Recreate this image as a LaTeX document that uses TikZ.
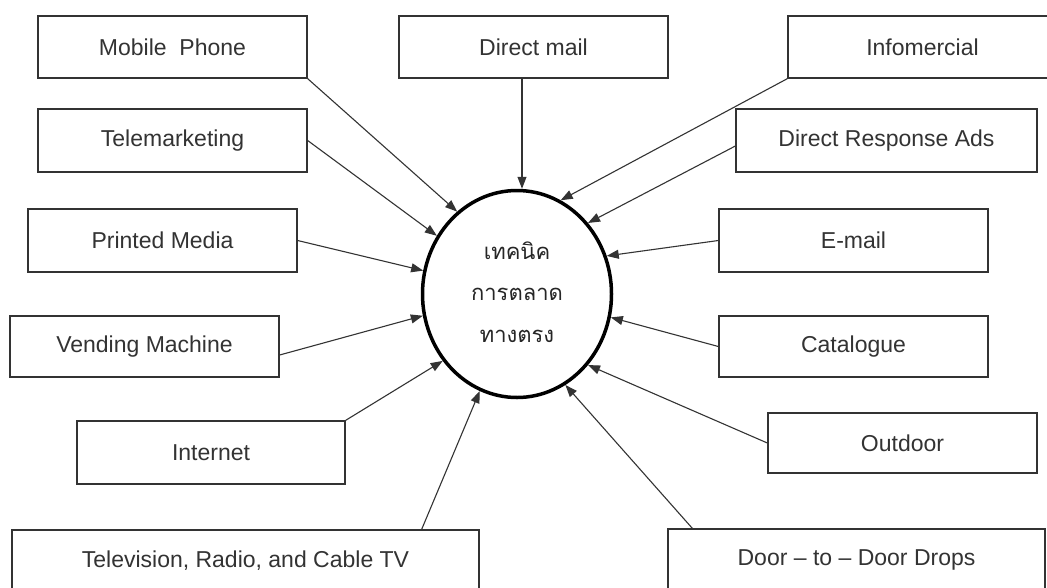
\documentclass[tikz,border=0pt]{standalone}
\usepackage{fontspec}
\setmainfont{Liberation Sans}
\newfontfamily\thaifont[Script=Thai]{Loma}
\usetikzlibrary{shapes.geometric,arrows.meta}
\begin{document}
\begin{tikzpicture}[x=1pt,y=-1pt,
  box/.style={draw=black!80, line width=1.3pt, fill=white, inner sep=0pt,
    minimum height=62pt, font=\fontsize{23}{28}\selectfont, text=black!80},
  conn/.style={draw=black!80, line width=1.1pt, -{Triangle[length=12pt,width=9pt]}},
  hub/.style={ellipse, draw=black, line width=3.5pt, inner sep=0pt,
    minimum width=189pt, minimum height=207pt},
]
\useasboundingbox (0,0) rectangle (1047,587);
\clip (0,0) rectangle (1047,587);
\fill[white] (0,0) rectangle (1047,587);

% hub
\node[hub] (c) at (517,294) {};
\node[font=\thaifont\fontsize{22}{41.5}\selectfont, text=black!85, align=center] (ct) at (517,292)
  {เทคนิค\\การตลาด\\ทางตรง};

% boxes
\node[box, minimum width=269pt] (mob) at (172.5,47) {Mobile~~Phone};
\node[box, minimum width=269pt] (dm) at (533.5,47) {Direct mail};
\node[box, minimum width=269pt] (info) at (922.5,47) {Infomercial};
\node[box, minimum width=269pt, minimum height=63pt] (tel) at (172.5,140.5) {Telemarketing};
\node[box, minimum width=301pt, minimum height=63pt] (dra) at (886.5,140.5) {Direct Response Ads};
\node[box, minimum width=269pt, minimum height=63pt] (pm) at (162.5,240.5) {Printed Media};
\node[box, minimum width=269pt, minimum height=63pt] (em) at (853.5,240.5) {E-mail};
\node[box, minimum width=269pt, minimum height=61pt] (vm) at (144.5,346.5) {Vending Machine};
\node[box, minimum width=269pt, minimum height=61pt] (cat) at (853.5,346.5) {Catalogue};
\node[box, minimum width=268pt, minimum height=63pt] (int) at (211,452.5) {Internet};
\node[box, minimum width=269pt, minimum height=60pt] (out) at (902.5,443) {Outdoor};
\node[box, minimum width=467pt] (tv) at (245.5,561) {Television, Radio, and Cable TV};
\node[box, minimum width=377pt] (door) at (856.5,560) {Door -- to -- Door Drops};

% connectors
\draw[conn] (mob.south east) -- (c.126.8);
\draw[conn] (tel.east) -- (c.144.3);
\draw[conn] (pm.east) -- (c.166.4);
\draw[conn] ([yshift=-8.5pt]vm.east) -- (c.193.1);
\draw[conn] (int.north east) -- (c.222);
\draw[conn] ([xshift=-58pt]tv.north east) -- (c.249.9);
\draw[conn] ([xshift=25pt]door.north west) -- (c.298.2);
\draw[conn] (out.west) -- (c.315.8);
\draw[conn] (cat.west) -- (c.346.8);
\draw[conn] (em.west) -- (c.23.2);
\draw[conn] ([yshift=-5.5pt]dra.west) -- (c.45.4);
\draw[conn] (info.south west) -- (c.65.1);
\draw[conn] ([xshift=-11.5pt]dm.south) -- ([xshift=-11.5pt]dm.south |- c.north);
\end{tikzpicture}
\end{document}
